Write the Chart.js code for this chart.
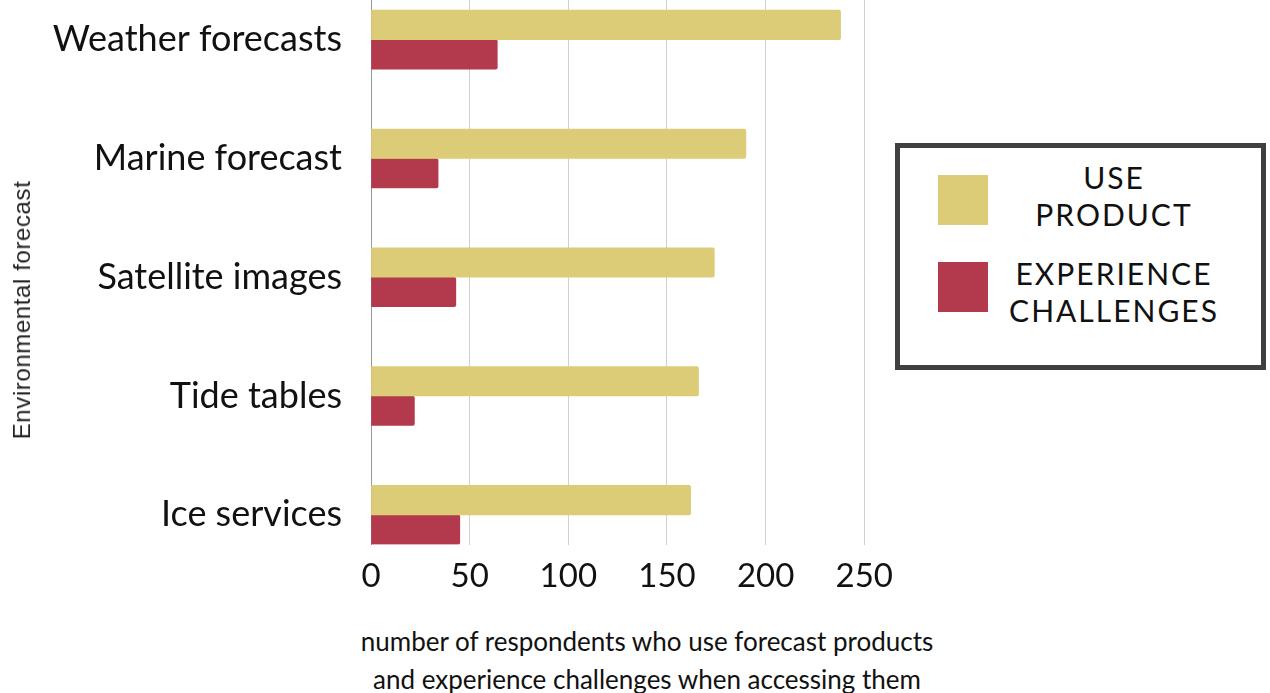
<!DOCTYPE html>
<html>
<head>
<meta charset="utf-8">
<script src="https://cdn.jsdelivr.net/npm/chart.js@4/dist/chart.umd.min.js"></script>
<style>
  html, body { margin: 0; padding: 0; background: #fff; width: 1270px; height: 693px; overflow: hidden; position: relative; }
  #wrap { position: absolute; left: 0; top: 0; width: 893px; height: 610px; overflow: hidden; }
  #wrap canvas { position: absolute; left: 0; top: 0; }
  #ytitle { position: absolute; left: 22px; top: 310px; transform: translate(-50%, -50%) rotate(-90deg);
            font-family: "Liberation Sans", Arial, sans-serif; font-size: 24px; letter-spacing: 0.6px; color: #222; white-space: nowrap; }
  #xtitle { position: absolute; left: 647px; top: 622px; transform: translateX(-50%); text-align: center;
            font-family: Lato, sans-serif; font-size: 26px; line-height: 38px; color: #111; white-space: nowrap; }
  #legend { position: absolute; left: 895px; top: 143px; width: 361px; height: 217px; border: 5px solid #404040; }
  .item { position: absolute; left: 38px; width: 300px; height: 80px; display: flex; align-items: center; }
  .sw { width: 50px; height: 50px; flex: none; }
  .lt { width: 244px; margin-left: 4px; text-align: center; font-family: Lato, sans-serif; font-size: 30px;
        line-height: 37px; letter-spacing: 2px; color: #111; }
</style>
</head>
<body>
<div id="wrap"><canvas id="c" width="905" height="610" style="width:905px;height:610px"></canvas></div>
<div id="ytitle">Environmental forecast</div>
<div id="xtitle">number of respondents who use forecast products<br>and experience challenges when accessing them</div>
<div id="legend"></div>
<script>
const categories = ["Weather forecasts", "Marine forecast", "Satellite images", "Tide tables", "Ice services"];
const useProduct = [238, 190, 174, 166, 162];
const experienceChallenges = [64, 34, 43, 22, 45];
const xTicks = [0, 50, 100, 150, 200, 250];
const seriesLabels = ["USE PRODUCT", "EXPERIENCE CHALLENGES"];
const seriesColors = ["#DCCC78", "#B33A4C"];

const toPoints = arr => arr.map((v, i) => ({ x: v, y: i }));

const chart = new Chart(document.getElementById('c'), {
  type: 'bar',
  data: {
    datasets: [
      { label: seriesLabels[0], data: toPoints(useProduct), backgroundColor: seriesColors[0], borderRadius: 2, barThickness: 29.5 },
      { label: seriesLabels[1], data: toPoints(experienceChallenges), backgroundColor: seriesColors[1], borderRadius: 2, barThickness: 29.5 }
    ]
  },
  options: {
    indexAxis: 'y',
    responsive: false,
    animation: false,
    layout: { padding: { left: 0, right: 39, top: 0, bottom: 0 } },
    plugins: { legend: { display: false }, tooltip: { enabled: false } },
    scales: {
      x: {
        type: 'linear',
        min: xTicks[0],
        max: xTicks[xTicks.length - 1],
        afterBuildTicks: s => { s.ticks = xTicks.map(v => ({ value: v })); },
        ticks: { font: { family: 'Lato', size: 33 }, color: '#111', padding: 12, maxRotation: 0 },
        grid: { color: '#d0d0d0', lineWidth: 1, drawTicks: false },
        border: { display: false },
        afterFit: s => { s.height = 65.5; }
      },
      y: {
        type: 'linear',
        reverse: true,
        offset: false,
        bounds: 'data',
        min: -0.334,
        max: 4.25,
        afterBuildTicks: s => { s.ticks = categories.map((c, i) => ({ value: i })); },
        ticks: {
          autoSkip: false, includeBounds: false,
          font: { family: 'Lato', size: 36 }, color: '#111', padding: 29,
          callback: v => categories[v]
        },
        grid: { display: false, drawTicks: false, offset: false },
        border: { display: true, color: '#999', width: 1 },
        afterFit: s => { s.width = 371; s.paddingTop = 0; s.paddingBottom = 0; }
      }
    }
  }
});

// HTML legend built from the chart datasets
const legend = document.getElementById('legend');
const tops = [12, 99];
const textShift = [-4, 5];
chart.data.datasets.forEach((ds, i) => {
  const item = document.createElement('div');
  item.className = 'item';
  item.style.top = tops[i] + 'px';
  const sw = document.createElement('div');
  sw.className = 'sw';
  sw.style.background = ds.backgroundColor;
  const lt = document.createElement('div');
  lt.className = 'lt';
  lt.style.transform = 'translateY(' + textShift[i] + 'px)';
  lt.innerHTML = ds.label.split(' ').join('<br>');
  item.appendChild(sw);
  item.appendChild(lt);
  legend.appendChild(item);
});
</script>
</body>
</html>
